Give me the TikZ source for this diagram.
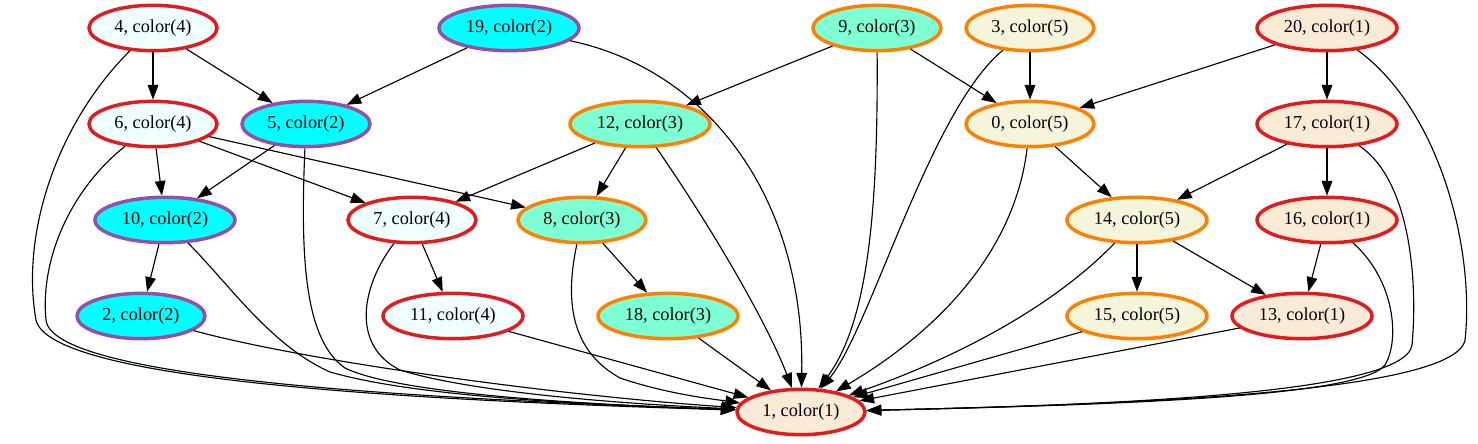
\documentclass[tikz,border=0pt]{standalone}
\usepackage{fontspec}
\setmainfont{Liberation Serif}
\usetikzlibrary{shapes.geometric,arrows.meta}
\definecolor{gvred}{HTML}{E41A1C}
\definecolor{gvpurple}{HTML}{984EA3}
\definecolor{gvorange}{HTML}{FF7F00}
\definecolor{fillazure}{HTML}{F0FFFF}
\definecolor{fillcyan}{HTML}{00FFFF}
\definecolor{fillaqua}{HTML}{7FFFD4}
\definecolor{fillbeige}{HTML}{F5F5DC}
\definecolor{fillantique}{HTML}{FAEBD7}
\begin{document}
\begin{tikzpicture}[x=0.75pt,y=-0.75pt]
  \tikzset{vtx/.style={ellipse,line width=2.6pt,minimum width=96pt,minimum height=34pt,inner sep=0pt,font=\fontsize{13.7}{16}\selectfont},
    wide/.style={minimum width=105pt},
    col1/.style={vtx,draw=gvred,fill=fillantique},
    col2/.style={vtx,draw=gvpurple,fill=fillcyan},
    col3/.style={vtx,draw=gvorange,fill=fillaqua},
    col4/.style={vtx,draw=gvred,fill=fillazure},
    col5/.style={vtx,draw=gvorange,fill=fillbeige},
    link/.style={line width=0.85pt,-{Triangle[length=11pt,width=8pt]}}}
  \useasboundingbox (0,0) rectangle (1478,443);

  % rank 1
  \node[col4] (n4) at (153,28) {4, color(4)};
  \node[col2,wide] (n19) at (509,28) {19, color(2)};
  \node[col3] (n9) at (877,28) {9, color(3)};
  \node[col5] (n3) at (1030,28) {3, color(5)};
  \node[col1,wide] (n20) at (1327,28) {20, color(1)};
  % rank 2
  \node[col4] (n6) at (153,124) {6, color(4)};
  \node[col2] (n5) at (306,124) {5, color(2)};
  \node[col3,wide] (n12) at (640,124) {12, color(3)};
  \node[col5] (n0) at (1030,124) {0, color(5)};
  \node[col1,wide] (n17) at (1327,124) {17, color(1)};
  % rank 3
  \node[col2,wide] (n10) at (165,220) {10, color(2)};
  \node[col4] (n7) at (412,220) {7, color(4)};
  \node[col3] (n8) at (582,220) {8, color(3)};
  \node[col5,wide] (n14) at (1137,220) {14, color(5)};
  \node[col1,wide] (n16) at (1327,220) {16, color(1)};
  % rank 4
  \node[col2] (n2) at (141,316) {2, color(2)};
  \node[col4,wide] (n11) at (453,316) {11, color(4)};
  \node[col3,wide] (n18) at (668,316) {18, color(3)};
  \node[col5,wide] (n15) at (1137,316) {15, color(5)};
  \node[col1,wide] (n13) at (1302,316) {13, color(1)};
  % sink
  \node[col1] (n1) at (801,412) {1, color(1)};

  \draw[link] (n4) -- (n6);
  \draw[link] (n4) -- (n5);
  \draw[link] (n19) -- (n5);
  \draw[link] (n9) -- (n12);
  \draw[link] (n9) -- (n0);
  \draw[link] (n3) -- (n0);
  \draw[link] (n20) -- (n0);
  \draw[link] (n20) -- (n17);
  \draw[link] (n6) -- (n10);
  \draw[link] (n6) -- (n7);
  \draw[link] (n6) -- (n8);
  \draw[link] (n5) -- (n10);
  \draw[link] (n12) -- (n7);
  \draw[link] (n12) -- (n8);
  \draw[link] (n0) -- (n14);
  \draw[link] (n17) -- (n14);
  \draw[link] (n17) -- (n16);
  \draw[link] (n10) -- (n2);
  \draw[link] (n7) -- (n11);
  \draw[link] (n8) -- (n18);
  \draw[link] (n14) -- (n15);
  \draw[link] (n14) -- (n13);
  \draw[link] (n16) -- (n13);

  % everything runs into 1
  \draw[link] (n4) .. controls (60,120) and (20,230) .. (36,320) .. controls (50,380) and (400,400) .. (n1);
  \draw[link] (n6) .. controls (70,190) and (40,260) .. (46,320) .. controls (52,378) and (400,398) .. (n1);
  \draw[link] (n10) .. controls (230,285) and (270,345) .. (330,372) .. controls (420,398) and (600,405) .. (n1);
  \draw[link] (n2) .. controls (300,360) and (550,395) .. (n1);
  \draw[link] (n5) .. controls (300,260) and (305,340) .. (345,368) .. controls (400,395) and (600,405) .. (n1);
  \draw[link] (n7) .. controls (362,285) and (350,345) .. (400,370) .. controls (480,395) and (650,405) .. (n1);
  \draw[link] (n11) -- (n1);
  \draw[link] (n8) .. controls (565,300) and (570,350) .. (620,378) .. controls (670,395) and (720,400) .. (n1);
  \draw[link] (n18) -- (n1);
  \draw[link] (n12) .. controls (720,240) and (770,330) .. (n1);
  \draw[link] (n19) .. controls (710,70) and (805,200) .. (n1);
  \draw[link] (n9) .. controls (878,200) and (870,320) .. (n1);
  \draw[link] (n3) .. controls (930,110) and (870,330) .. (n1);
  \draw[link] (n0) .. controls (1015,250) and (940,330) .. (n1);
  \draw[link] (n14) .. controls (1050,310) and (950,360) .. (n1);
  \draw[link] (n15) -- (n1);
  \draw[link] (n13) -- (n1);
  \draw[link] (n16) .. controls (1395,280) and (1400,340) .. (1385,365) .. controls (1360,398) and (1100,405) .. (n1);
  \draw[link] (n17) .. controls (1410,180) and (1418,280) .. (1412,345) .. controls (1405,395) and (1100,405) .. (n1);
  \draw[link] (n20) .. controls (1440,110) and (1475,250) .. (1465,340) .. controls (1455,395) and (1100,405) .. (n1);
\end{tikzpicture}
\end{document}
